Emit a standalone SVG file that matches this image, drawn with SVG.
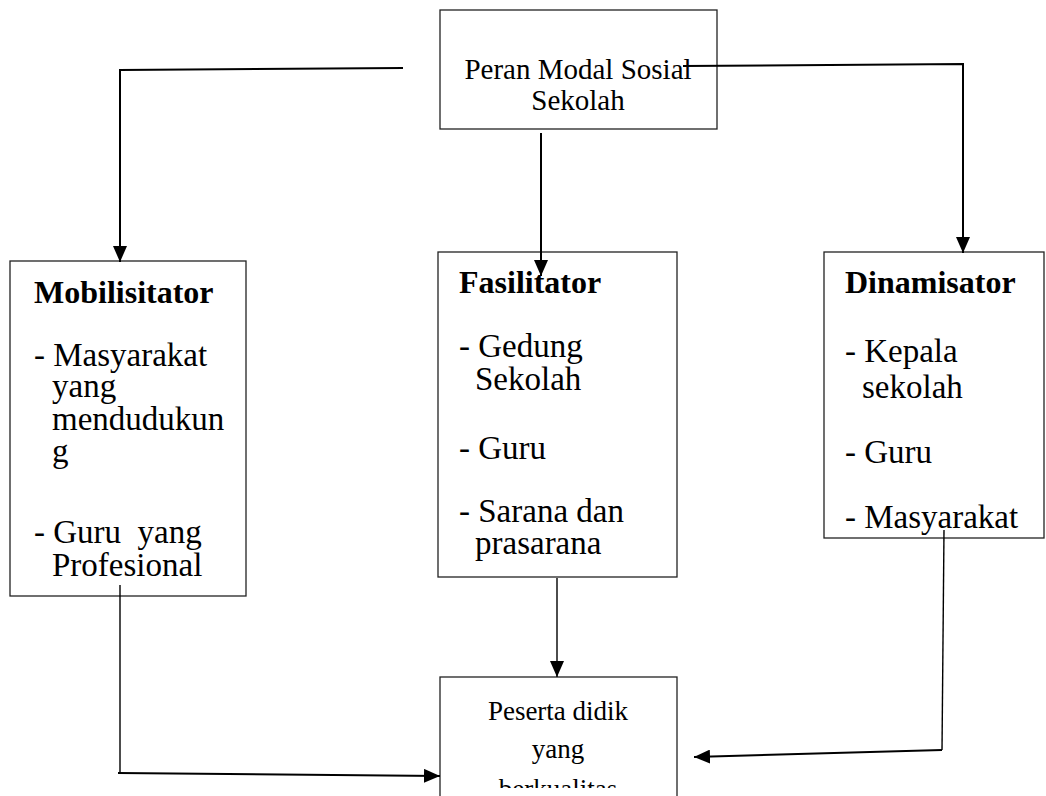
<svg xmlns="http://www.w3.org/2000/svg" width="1046" height="796" viewBox="0 0 1046 796">
<defs>
<marker id="ah" markerUnits="userSpaceOnUse" markerWidth="18" markerHeight="14" refX="16" refY="7" orient="auto">
<path d="M0,0 L16,7 L0,14 Z" fill="#000"/>
</marker>
<clipPath id="clipB"><rect x="0" y="0" width="1046" height="788"/></clipPath>
<style>
.box{fill:#fff;stroke:#222;stroke-width:1.3}
.t{font-family:"Liberation Serif","Times New Roman",serif;font-size:33px;fill:#000}
.h{font-family:"Liberation Serif","Times New Roman",serif;font-size:32px;font-weight:bold;fill:#000}
.s{font-family:"Liberation Serif","Times New Roman",serif;font-size:29px;fill:#000}
.b{font-family:"Liberation Serif","Times New Roman",serif;font-size:27px;fill:#000}
.c{fill:none;stroke:#000;stroke-width:2}
.thin{fill:none;stroke:#000;stroke-width:1.4}
</style>
</defs>
<g id="top">
<rect class="box" x="440" y="10" width="277" height="119"/>
<text class="s" x="578" y="79" text-anchor="middle">Peran Modal Sosial</text>
<text class="s" x="578" y="110" text-anchor="middle">Sekolah</text>
</g>
<g id="mobilisitator">
<rect class="box" x="10" y="261" width="236" height="335"/>
<text class="h" x="34" y="303">Mobilisitator</text>
<text class="t" x="34" y="366">- Masyarakat</text>
<text class="t" x="52" y="397">yang</text>
<text class="t" x="52" y="430">mendudukun</text>
<text class="t" x="52" y="462">g</text>
<text class="t" x="34" y="543" xml:space="preserve">- Guru  yang</text>
<text class="t" x="52" y="576">Profesional</text>
</g>
<g id="fasilitator">
<rect class="box" x="438" y="252" width="239" height="325"/>
<text class="h" x="459" y="293">Fasilitator</text>
<text class="t" x="459" y="357">- Gedung</text>
<text class="t" x="475" y="390">Sekolah</text>
<text class="t" x="459" y="459">- Guru</text>
<text class="t" x="459" y="522">- Sarana dan</text>
<text class="t" x="475" y="554">prasarana</text>
</g>
<g id="dinamisator">
<rect class="box" x="824" y="252" width="220" height="286"/>
<text class="h" x="845" y="293">Dinamisator</text>
<text class="t" x="845" y="362">- Kepala</text>
<text class="t" x="862" y="398">sekolah</text>
<text class="t" x="845" y="463">- Guru</text>
<text class="t" x="845" y="528">- Masyarakat</text>
</g>
<g id="peserta">
<rect class="box" x="440" y="677" width="237" height="130"/>
<g clip-path="url(#clipB)">
<text class="b" x="558" y="720" text-anchor="middle">Peserta didik</text>
<text class="b" x="558" y="758" text-anchor="middle">yang</text>
<text class="b" x="558" y="798" text-anchor="middle">berkualitas</text>
</g>
</g>
<g id="connectors">
<polyline class="c" points="403,68 120,70 120,262" marker-end="url(#ah)"/>
<polyline class="c" points="683,66 963,64 963,253" marker-end="url(#ah)"/>
<line class="c" x1="541" y1="133" x2="541" y2="276" marker-end="url(#ah)"/>
<line class="thin" x1="557" y1="578" x2="557" y2="677" marker-end="url(#ah)"/>
<line class="thin" x1="120" y1="585" x2="120" y2="773"/>
<line class="c" x1="118" y1="773" x2="440" y2="776" stroke-width="2.5" marker-end="url(#ah)"/>
<line class="thin" x1="944" y1="530" x2="942" y2="750"/>
<line class="c" x1="942" y1="750" x2="694" y2="757" stroke-width="2.5" marker-end="url(#ah)"/>
</g>
</svg>
